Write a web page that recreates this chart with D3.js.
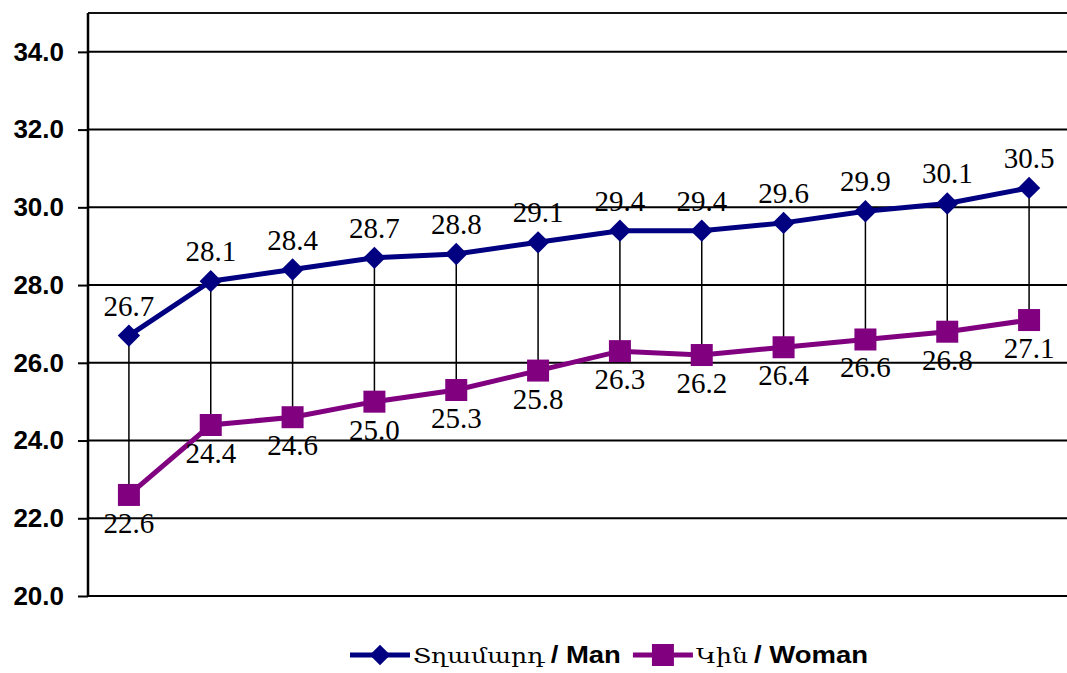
<!DOCTYPE html>
<html>
<head>
<meta charset="utf-8">
<script src="https://cdn.jsdelivr.net/npm/d3@7"></script>
<style>
  html, body { margin: 0; padding: 0; background: #fff; }
  svg { display: block; }
</style>
</head>
<body>
<svg id="chart" width="1067" height="673"></svg>
<script>
// ---- data ----
const categories = ["1","2","3","4","5","6","7","8","9","10","11","12"];
const manValues   = [26.7, 28.1, 28.4, 28.7, 28.8, 29.1, 29.4, 29.4, 29.6, 29.9, 30.1, 30.5];
const womanValues = [22.6, 24.4, 24.6, 25.0, 25.3, 25.8, 26.3, 26.2, 26.4, 26.6, 26.8, 27.1];
const yTicks = [20, 22, 24, 26, 28, 30, 32, 34];
const seriesNames = [
  { arm: "Տղամարդ", eng: "/ Man" },
  { arm: "Կին", eng: "/ Woman" }
];

// ---- layout ----
const svg = d3.select("#chart");
const plotL = 88, plotR = 1070, plotT = 13, plotB = 596;
const manColor = "#000080", womanColor = "#800080";

const x = d3.scaleBand().domain(categories).range([plotL, plotR]).padding(0);
const y = d3.scaleLinear().domain([20, 35]).range([plotB, plotT]);
const cx = c => x(c) + x.bandwidth() / 2;

// gridlines
svg.append("g").selectAll("line").data(yTicks.filter(t => t > 20)).join("line")
  .attr("x1", plotL).attr("x2", 1067)
  .attr("y1", d => y(d)).attr("y2", d => y(d))
  .attr("stroke", "#000").attr("stroke-width", 2);
// top border
svg.append("line").attr("x1", plotL).attr("x2", 1067).attr("y1", y(35)).attr("y2", y(35))
  .attr("stroke", "#111").attr("stroke-width", 2);

// y axis
const yAxis = d3.axisLeft(y).tickValues(yTicks).tickSize(10).tickPadding(14)
  .tickFormat(d3.format(".1f"));
const gy = svg.append("g").attr("transform", `translate(${plotL},0)`).call(yAxis);
gy.select(".domain").attr("stroke", "#000").attr("stroke-width", 2.5)
  .attr("d", `M0,${plotT}V${plotB}`);
gy.selectAll(".tick line").attr("stroke", "#000").attr("stroke-width", 2);
gy.selectAll(".tick text")
  .attr("font-family", "Liberation Sans, Arial, sans-serif")
  .attr("font-weight", "bold").attr("font-size", 26).attr("fill", "#000");

// bottom axis line
svg.append("line").attr("x1", plotL).attr("x2", 1067).attr("y1", plotB).attr("y2", plotB)
  .attr("stroke", "#000").attr("stroke-width", 2);

// high-low lines
svg.append("g").selectAll("line").data(categories).join("line")
  .attr("x1", c => cx(c)).attr("x2", c => cx(c))
  .attr("y1", (c, i) => y(manValues[i])).attr("y2", (c, i) => y(womanValues[i]))
  .attr("stroke", "#000").attr("stroke-width", 1.5);

// lines
const line = d3.line().x((d, i) => cx(categories[i])).y(d => y(d));
svg.append("path").datum(womanValues).attr("d", line)
  .attr("fill", "none").attr("stroke", womanColor).attr("stroke-width", 5);
svg.append("path").datum(manValues).attr("d", line)
  .attr("fill", "none").attr("stroke", manColor).attr("stroke-width", 5);

// markers
svg.append("g").selectAll("rect").data(womanValues).join("rect")
  .attr("x", (d, i) => cx(categories[i]) - 11).attr("y", d => y(d) - 11)
  .attr("width", 22).attr("height", 22).attr("fill", womanColor);
svg.append("g").selectAll("path").data(manValues).join("path")
  .attr("transform", (d, i) => `translate(${cx(categories[i])},${y(d)}) rotate(45)`)
  .attr("d", d3.symbol().type(d3.symbolSquare).size(250)())
  .attr("fill", manColor);

// data labels
const labelFont = "'Liberation Serif', 'Times New Roman', serif";
svg.append("g").selectAll("text").data(manValues).join("text")
  .attr("x", (d, i) => cx(categories[i])).attr("y", d => y(d) - 20)
  .attr("text-anchor", "middle").attr("font-family", labelFont).attr("font-size", 29)
  .attr("fill", "#000").text(d => d3.format(".1f")(d));
svg.append("g").selectAll("text").data(womanValues).join("text")
  .attr("x", (d, i) => cx(categories[i])).attr("y", d => y(d) + 38)
  .attr("text-anchor", "middle").attr("font-family", labelFont).attr("font-size", 29)
  .attr("fill", "#000").text(d => d3.format(".1f")(d));

// legend (laid out sequentially, text gently widened to span the reference extent)
const legend = svg.append("g");
const ly = 655;
const legendLeft = 350, legendRight = 868;
const lineLen = 60, gapAfterLine = 3, gapInText = 6, gapBetween = 12;
const legendItems = [
  { color: manColor, type: "diamond", name: seriesNames[0] },
  { color: womanColor, type: "square", name: seriesNames[1] }
];
const armFont = "'DejaVu Serif', serif", engFont = "'Liberation Sans', Arial, sans-serif";
legendItems.forEach(it => {
  it.g = legend.append("g");
  it.armT = it.g.append("text").attr("font-family", armFont).attr("font-size", 21)
    .attr("fill", "#000").text(it.name.arm);
  it.engT = it.g.append("text").attr("font-family", engFont).attr("font-size", 23)
    .attr("font-weight", "bold").attr("fill", "#000").text(it.name.eng);
  it.armW = it.armT.node().getComputedTextLength();
  it.engW = it.engT.node().getComputedTextLength();
});
const fixed = legendItems.length * (lineLen + gapAfterLine + gapInText) + gapBetween * (legendItems.length - 1);
const naturalText = d3.sum(legendItems, it => it.armW + it.engW);
const s = (legendRight - legendLeft - fixed) / naturalText;
let cur = legendLeft;
legendItems.forEach((it, i) => {
  const g = it.g;
  g.insert("line", "text").attr("x1", cur).attr("x2", cur + lineLen).attr("y1", ly).attr("y2", ly)
    .attr("stroke", it.color).attr("stroke-width", 5);
  const mx = cur + lineLen / 2;
  if (it.type === "diamond") {
    g.append("path").attr("transform", `translate(${mx},${ly}) rotate(45)`)
      .attr("d", d3.symbol().type(d3.symbolSquare).size(210)()).attr("fill", it.color);
  } else {
    g.append("rect").attr("x", mx - 11).attr("y", ly - 11)
      .attr("width", 22).attr("height", 22).attr("fill", it.color);
  }
  cur += lineLen + gapAfterLine;
  it.armT.attr("transform", `translate(${cur},${ly + 8}) scale(${s},1)`);
  cur += it.armW * s + gapInText;
  it.engT.attr("transform", `translate(${cur},${ly + 8}) scale(${s},1)`);
  cur += it.engW * s + gapBetween;
});
</script>
</body>
</html>
